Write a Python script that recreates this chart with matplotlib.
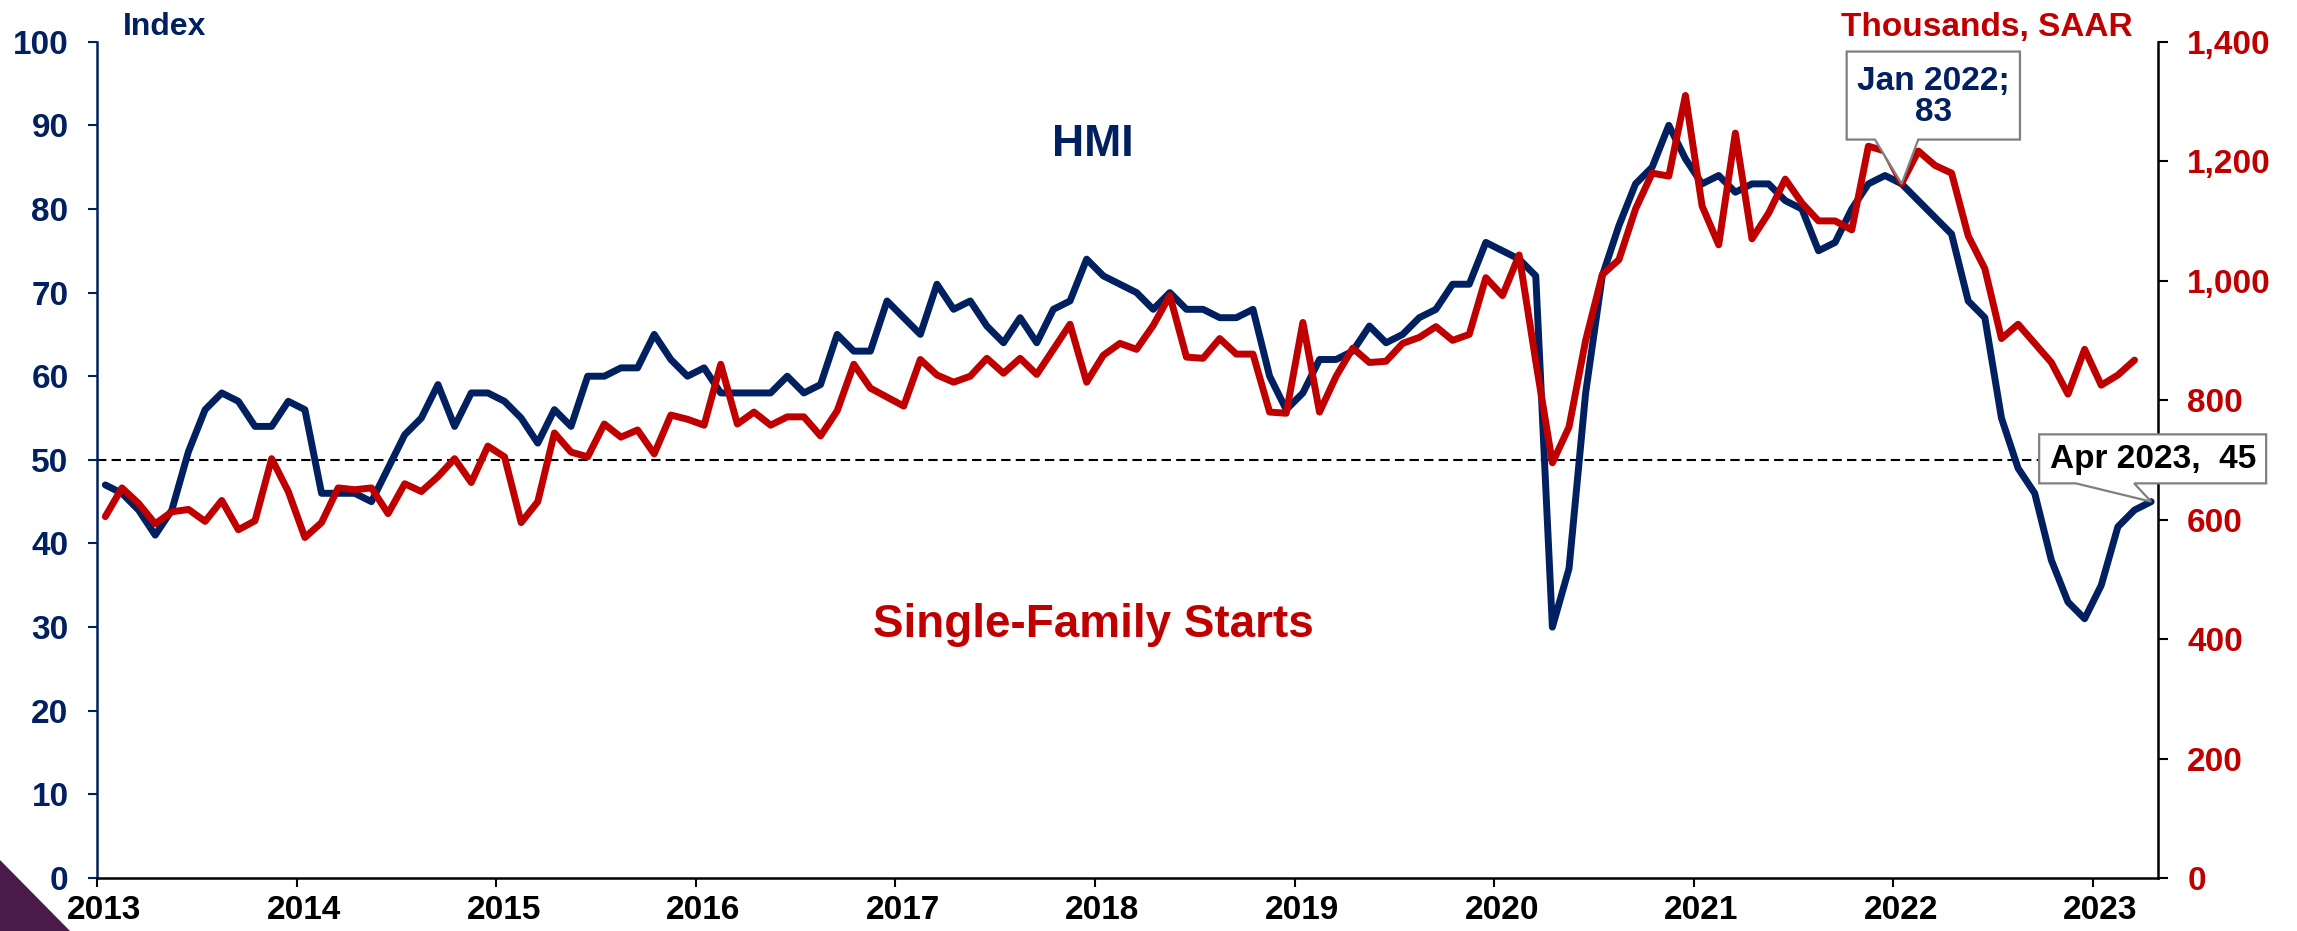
import numpy as np
import matplotlib
matplotlib.use("Agg")
import matplotlib.pyplot as plt
import matplotlib.transforms as mtransforms
from matplotlib.patches import Polygon
from matplotlib.ticker import FuncFormatter

# NAHB/Wells Fargo HMI, monthly from Jan 2013 to Apr 2023
hmi = [
    47, 46, 44, 41, 44, 51, 56, 58, 57, 54, 54, 57,   # 2013
    56, 46, 46, 46, 45, 49, 53, 55, 59, 54, 58, 58,   # 2014
    57, 55, 52, 56, 54, 60, 60, 61, 61, 65, 62, 60,   # 2015
    61, 58, 58, 58, 58, 60, 58, 59, 65, 63, 63, 69,   # 2016
    67, 65, 71, 68, 69, 66, 64, 67, 64, 68, 69, 74,   # 2017
    72, 71, 70, 68, 70, 68, 68, 67, 67, 68, 60, 56,   # 2018
    58, 62, 62, 63, 66, 64, 65, 67, 68, 71, 71, 76,   # 2019
    75, 74, 72, 30, 37, 58, 72, 78, 83, 85, 90, 86,   # 2020
    83, 84, 82, 83, 83, 81, 80, 75, 76, 80, 83, 84,   # 2021
    83, 81, 79, 77, 69, 67, 55, 49, 46, 38, 33, 31,   # 2022
    35, 42, 44, 45,                                   # 2023
]

# single-family housing starts, thousands SAAR, Jan 2013 to Mar 2023
starts = [
    605, 653, 627, 593, 613, 617, 597, 632, 583, 598, 702, 647,
    570, 595, 653, 650, 653, 610, 660, 647, 672, 702, 662, 723,
    705, 595, 630, 745, 713, 705, 760, 738, 750, 710, 775, 768,
    758, 860, 760, 780, 758, 772, 772, 740, 782, 860, 820, 805,
    790, 868, 842, 830, 840, 870, 845, 870, 843, 885, 927, 830,
    875, 895, 885, 925, 975, 872, 870, 903, 877, 877, 780, 778,
    930, 780, 840, 887, 863, 865, 895, 905, 923, 900, 910, 1005,
    975, 1043, 865, 695, 755, 900, 1010, 1035, 1120, 1180, 1175, 1310,
    1125, 1060, 1247, 1070, 1113, 1170, 1130, 1100, 1100, 1085, 1225, 1217,
    1163, 1217, 1193, 1180, 1075, 1020, 903, 927, 895, 863, 810, 885,
    825, 842, 867,
]

years = list(range(2013, 2024))
hmi_ticks = list(range(0, 101, 10))
starts_ticks = list(range(0, 1401, 200))

NAVY = "#002060"
RED = "#C00000"

plt.rcParams["font.family"] = ["Liberation Sans", "DejaVu Sans"]
plt.rcParams["font.weight"] = "bold"

fig = plt.figure(figsize=(22.97, 9.31), dpi=100)
ax1 = fig.add_axes([0.04223, 0.05693, 0.89726, 0.89828])
ax2 = ax1.twinx()

# months sit in the middle of each month
x_hmi = 2013 + (np.arange(len(hmi)) + 0.5) / 12
x_starts = 2013 + (np.arange(len(starts)) + 0.5) / 12

ax1.axhline(50, color="black", lw=1.5, ls=(0, (4.5, 2.5)), zorder=1)
ax1.plot(x_hmi, hmi, color=NAVY, lw=5, solid_joinstyle="round",
         solid_capstyle="round", zorder=3)
ax2.plot(x_starts, starts, color=RED, lw=5, solid_joinstyle="round",
         solid_capstyle="round", zorder=3)

ax1.set_xlim(2013, 2023.326)
ax1.set_ylim(0, 100)
ax2.set_ylim(0, 1400)

# year ticks on the boundary, labels nudged a little to the right
ax1.set_xticks(years)
ax1.set_xticklabels([])
ax1.set_xticks([y + 0.0376 for y in years], [str(y) for y in years], minor=True)
ax1.set_yticks(hmi_ticks)
ax2.set_yticks(starts_ticks)
ax2.yaxis.set_major_formatter(FuncFormatter(lambda v, p: f"{v:,.0f}"))

for s in ["top", "right"]:
    ax1.spines[s].set_visible(False)
for s in ["top", "left", "bottom"]:
    ax2.spines[s].set_visible(False)
ax1.spines["left"].set_color(NAVY)
ax1.spines["left"].set_linewidth(1.8)
ax1.spines["bottom"].set_color("black")
ax1.spines["bottom"].set_linewidth(1.8)
ax2.spines["right"].set_color("black")
ax2.spines["right"].set_linewidth(1.8)

ax1.tick_params(axis="y", direction="out", length=6.5, width=1.5, color=NAVY,
                labelcolor=NAVY, labelsize=24, pad=14)
ax1.tick_params(axis="x", which="major", direction="out", length=6.5, width=1.5,
                color="black")
ax1.tick_params(axis="x", which="minor", length=0, labelsize=24, pad=12,
                labelcolor="black")
ax2.tick_params(axis="y", direction="out", length=7, width=1.5, color="black",
                labelcolor=RED, labelsize=24, pad=14)

# series labels
ax1.text(2017.99, 86.3, "HMI", color=NAVY, fontsize=32, ha="center", va="baseline")
ax1.text(2017.99, 28.8, "Single-Family Starts", color=RED, fontsize=33,
         ha="center", va="baseline")

fig.text(123 / 2297, 1 - 35 / 931, "Index", color=NAVY, fontsize=23,
         ha="left", va="baseline")
fig.text(2133 / 2297, 1 - 36 / 931, "Thousands, SAAR", color=RED, fontsize=24,
         ha="right", va="baseline")


def callout(x, y, text, color, box, base, center):
    # box = (left, right, bottom, top) in pixels relative to the data point
    trans = fig.dpi_scale_trans + mtransforms.ScaledTranslation(x, y, ax1.transData)
    l, r, b, t = box
    bl, br = base
    verts = np.array([(bl, b), (l, b), (l, t), (r, t), (r, b), (br, b), (0, 0)]) / 100
    poly = Polygon(verts, closed=True, facecolor="white", edgecolor="#7F7F7F",
                   lw=1.6, transform=trans, clip_on=False, zorder=10)
    ax2.add_patch(poly)
    ax2.text(center[0] / 100, center[1] / 100, text, transform=trans, color=color,
             fontsize=24, ha="center", va="center", linespacing=1.0,
             zorder=11, clip_on=False)


callout(x_hmi[108], hmi[108], "Jan 2022;\n83", NAVY,
        (-55, 118.3, 44.3, 132.3), (-26.7, 16.6), (31.7, 87))
callout(x_hmi[-1], hmi[-1], "Apr 2023,  45", "black",
        (-112, 115, 18.3, 67.3), (-75.3, -17), (1.5, 42.5))

# purple corner decoration
fig.add_artist(Polygon([(0, 0), (0, 1 - 860 / 931), (70 / 2297, 0)], closed=True,
                       transform=fig.transFigure, facecolor="#4a1a4a",
                       edgecolor="none"))

fig.savefig("out.png", dpi=100)
